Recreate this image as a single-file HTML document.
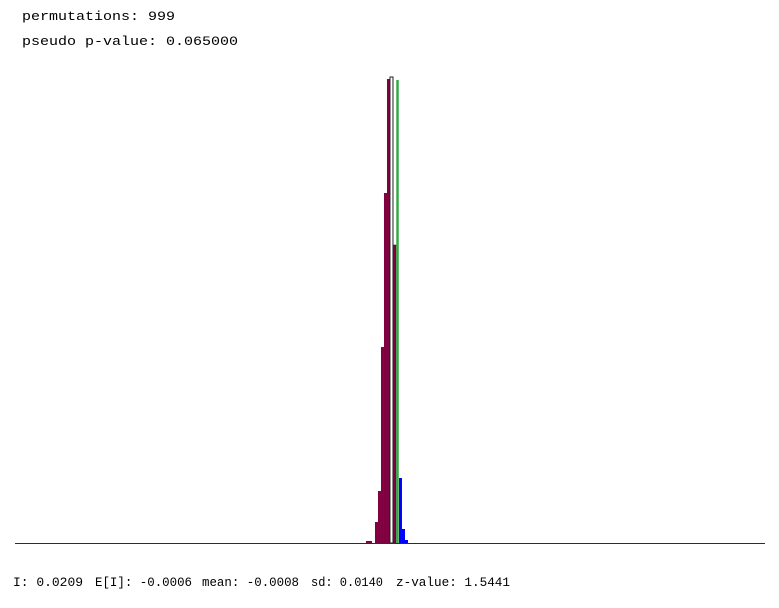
<!DOCTYPE html>
<html><head><meta charset="utf-8"><style>
body{margin:0;background:#fff;}
svg{display:block;}
text{font-family:"Liberation Mono","Noto Sans CJK SC",monospace;font-size:13px;fill:#000;}
</style></head><body>
<svg id="chart" width="779" height="608">
<text x="22" y="20" textLength="153" lengthAdjust="spacingAndGlyphs">permutations: 999</text>
<text x="22" y="45" textLength="216" lengthAdjust="spacingAndGlyphs">pseudo p-value: 0.065000</text>
<g id="bars"></g>
<line x1="15" y1="543.5" x2="765" y2="543.5" stroke="#800040" stroke-width="1"/>
<text x="13" y="586" textLength="70" lengthAdjust="spacingAndGlyphs">I: 0.0209</text>
<text x="95" y="586" textLength="97" lengthAdjust="spacingAndGlyphs">E[I]: -0.0006</text>
<text x="202" y="586" textLength="97" lengthAdjust="spacingAndGlyphs">mean: -0.0008</text>
<text x="311" y="586" textLength="72" lengthAdjust="spacingAndGlyphs">sd: 0.0140</text>
<text x="396" y="586" textLength="114" lengthAdjust="spacingAndGlyphs">z-value: 1.5441</text>
</svg>
<script>
const binStarts = [-0.0595,-0.05185,-0.0442,-0.03655,-0.0289,-0.02125,-0.0136,-0.00595,0.0017,0.00935,0.017,0.02465,0.0323,0.03995];
const counts = [2,2,0,21,52,196,350,464,466,298,0,65,14,3];
const observedI = 0.0209;
const binWidth = 0.00765;
const maxCount = 466;
const x = v => 389 + (v + 0.0008) / 0.00255;
const y = c => 543 - c / maxCount * 466;
const g = document.getElementById('bars');
const NS = 'http://www.w3.org/2000/svg';
for (let i = 0; i < counts.length; i++) {
  if (!counts[i]) continue;
  const r = document.createElementNS(NS, 'rect');
  const x0 = x(binStarts[i]), x1 = x(binStarts[i] + binWidth);
  r.setAttribute('x', x0); r.setAttribute('width', x1 - x0);
  r.setAttribute('y', y(counts[i])); r.setAttribute('height', 543 - y(counts[i]));
  let fill = binStarts[i] >= observedI ? '#0000ff' : '#800040';
  if (i === 8) { fill = '#ffffff'; r.setAttribute('stroke', '#222'); r.setAttribute('stroke-width', '1'); }
  if (i === 9) { r.setAttribute('stroke', '#222'); r.setAttribute('stroke-width', '0.6'); }
  r.setAttribute('fill', fill);
  
  
  g.appendChild(r);
}
const l = document.createElementNS(NS, 'line');
l.setAttribute('x1', x(observedI)); l.setAttribute('x2', x(observedI));
l.setAttribute('y1', 80); l.setAttribute('y2', 543);
l.setAttribute('stroke', '#33aa44'); l.setAttribute('stroke-width', '2.5');


g.appendChild(l);
</script>
</body></html>
